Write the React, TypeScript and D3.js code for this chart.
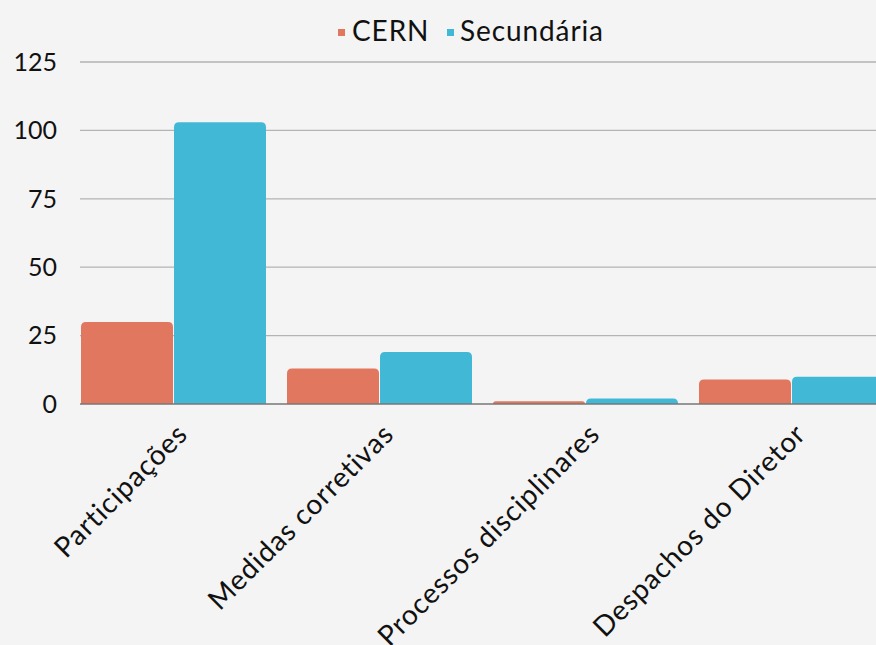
import React, { useEffect, useRef } from 'react'
import * as d3 from 'd3'

const categories = ['Participações', 'Medidas corretivas', 'Processos disciplinares', 'Despachos do Diretor']
const seriesNames = ['CERN', 'Secundária']
const cernValues = [30, 13, 1, 9]
const secundariaValues = [103, 19, 2, 10]
const yTicks = [0, 25, 50, 75, 100, 125]
const colors = ['#E2775F', '#42B8D7']

const FONT = 'Lato, "Open Sans", sans-serif'

export default function App() {
    const ref = useRef<SVGSVGElement>(null)

    useEffect(() => {
        const width = 876, height = 645
        const svg = d3.select(ref.current)
        svg.selectAll('*').remove()

        svg.append('rect').attr('width', width).attr('height', height).attr('fill', '#F4F4F4')

        const y = d3.scaleLinear([0, 125], [404, 62])
        const x = d3.scaleBand(categories, [81, 884]).paddingInner(21 / 206).paddingOuter(0)
        const xs = d3.scaleBand(seriesNames, [0, x.bandwidth()]).paddingInner(1 / 93)

        // gridlines
        svg.append('g')
            .selectAll('line')
            .data(yTicks.filter(d => d > 0))
            .join('line')
            .attr('x1', 80).attr('x2', width)
            .attr('y1', d => y(d)).attr('y2', d => y(d))
            .attr('stroke', '#B3B3B3').attr('stroke-width', 1.3)

        // y labels
        svg.append('g')
            .selectAll('text')
            .data(yTicks)
            .join('text')
            .attr('x', 57).attr('y', d => y(d))
            .attr('dy', '0.35em')
            .attr('text-anchor', 'end')
            .attr('font-family', FONT).attr('font-size', 25)
            .attr('fill', '#111')
            .text(d => d)

        const rows = categories.map((c, i) => ({ c, vals: [cernValues[i], secundariaValues[i]] }))
        const r = 5
        const barPath = (x0: number, w: number, y0: number, y1: number) => {
            const h = y1 - y0
            const rr = Math.min(r, h, w / 2)
            return `M${x0},${y1}V${y0 + rr}Q${x0},${y0} ${x0 + rr},${y0}H${x0 + w - rr}Q${x0 + w},${y0} ${x0 + w},${y0 + rr}V${y1}Z`
        }

        svg.append('g')
            .selectAll('g')
            .data(rows)
            .join('g')
            .attr('transform', d => `translate(${x(d.c)},0)`)
            .selectAll('path')
            .data(d => d.vals.map((v, j) => ({ v, s: seriesNames[j], j })))
            .join('path')
            .attr('fill', d => colors[d.j])
            .attr('d', d => barPath(xs(d.s), xs.bandwidth(), y(d.v), y(0)))

        // baseline
        svg.append('line')
            .attr('x1', 80).attr('x2', width)
            .attr('y1', y(0)).attr('y2', y(0))
            .attr('stroke', '#777').attr('stroke-width', 1.3)

        // x labels
        svg.append('g')
            .selectAll('text')
            .data(categories)
            .join('text')
            .attr('transform', d => `translate(${x(d) + x.bandwidth() / 2},${420}) rotate(-45)`)
            .attr('text-anchor', 'end')
            .attr('dominant-baseline', 'hanging')
            .attr('font-family', FONT).attr('font-size', 28)
            .attr('letter-spacing', 0.9)
            .attr('fill', '#111')
            .text(d => d)

        // legend
        const legend = svg.append('g')
        const items = [{ name: 'CERN', sx: 338, tx: 352 }, { name: 'Secundária', sx: 447, tx: 460 }]
        items.forEach((it, i) => {
            legend.append('rect').attr('x', it.sx).attr('y', 29).attr('width', 7).attr('height', 7).attr('fill', colors[i])
            legend.append('text').attr('x', it.tx).attr('y', 31).attr('dy', '0.35em')
                .attr('font-family', FONT).attr('font-size', 28)
                .attr('letter-spacing', 0.9)
                .attr('fill', '#111').text(it.name)
        })
    }, [])

    return <svg ref={ref} width={876} height={645} style={{ display: 'block', position: 'absolute', left: 0, top: 0 }}></svg>
}
